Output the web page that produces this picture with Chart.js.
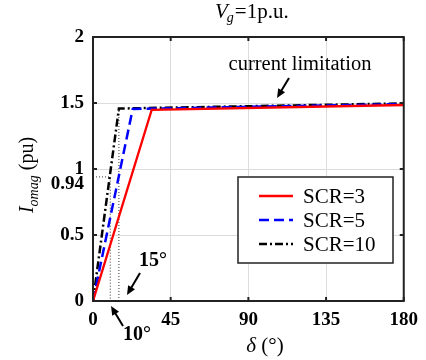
<!DOCTYPE html>
<html>
<head>
<meta charset="utf-8">
<script src="https://cdn.jsdelivr.net/npm/chart.js@4/dist/chart.umd.min.js"></script>
<style>
  html, body { margin: 0; padding: 0; background: #fff; }
  #wrap { width: 426px; height: 360px; position: relative; }
</style>
</head>
<body>
<div id="wrap"><canvas id="chart"></canvas></div>
<script>
const SERIF = '"Liberation Serif", "Times New Roman", serif';

// load angle (deg) vs. current magnitude (pu)
const scr3Delta = [0, 34, 180];
const scr3Imag = [0, 1.448, 1.485];
const scr5Delta = [0, 23, 180];
const scr5Imag = [0, 1.455, 1.492];
const scr10Delta = [0, 15, 180];
const scr10Imag = [0, 1.458, 1.497];

const seriesLabels = ['SCR=3', 'SCR=5', 'SCR=10'];
const xTicks = [0, 45, 90, 135, 180];
const yTicks = [0, 0.5, 1, 1.5, 2];

// dotted guides
const markLevel = 0.94;
const markAngles = [10, 15];

const pts = (xs, ys) => xs.map((x, i) => ({ x: x, y: ys[i] }));

const guideA = [{ x: 0, y: markLevel }, { x: markAngles[0], y: markLevel }, { x: markAngles[0], y: 0 }];
const guideB = [{ x: markAngles[1], y: 0 }, { x: markAngles[1], y: scr10Imag[1] }];

function arrow(ctx, x1, y1, x2, y2) {
  const a = Math.atan2(y2 - y1, x2 - x1);
  const L = 9, W = 4;
  ctx.beginPath();
  ctx.moveTo(x1, y1);
  ctx.lineTo(x2 - Math.cos(a) * L * 0.8, y2 - Math.sin(a) * L * 0.8);
  ctx.strokeStyle = '#000';
  ctx.lineWidth = 2;
  ctx.stroke();
  ctx.beginPath();
  ctx.moveTo(x2, y2);
  ctx.lineTo(x2 - Math.cos(a) * L - Math.sin(a) * W, y2 - Math.sin(a) * L + Math.cos(a) * W);
  ctx.lineTo(x2 - Math.cos(a) * L + Math.sin(a) * W, y2 - Math.sin(a) * L - Math.cos(a) * W);
  ctx.closePath();
  ctx.fillStyle = '#000';
  ctx.fill();
}

const decorations = {
  id: 'decorations',
  afterDatasetsDraw(chart) {
    const { ctx, chartArea: a, scales } = chart;
    const xs = scales.x, ys = scales.y;
    ctx.save();

    // frame
    ctx.strokeStyle = '#222';
    ctx.lineWidth = 2;
    ctx.strokeRect(a.left, a.top, a.right - a.left, a.bottom - a.top);

    // inward ticks
    ctx.lineWidth = 2;
    ctx.beginPath();
    xTicks.forEach(v => {
      const px = xs.getPixelForValue(v);
      ctx.moveTo(px, a.bottom); ctx.lineTo(px, a.bottom - 4);
      ctx.moveTo(px, a.top); ctx.lineTo(px, a.top + 4);
    });
    yTicks.forEach(v => {
      const py = ys.getPixelForValue(v);
      ctx.moveTo(a.left, py); ctx.lineTo(a.left + 4, py);
      ctx.moveTo(a.right, py); ctx.lineTo(a.right - 4, py);
    });
    ctx.stroke();

    // extra level label
    ctx.fillStyle = '#000';
    ctx.font = 'bold 19px ' + SERIF;
    ctx.textAlign = 'right';
    ctx.textBaseline = 'middle';
    ctx.fillText(String(markLevel), a.left - 9, ys.getPixelForValue(markLevel) + 7);

    // annotations
    ctx.font = 'bold 20px ' + SERIF;
    ctx.textAlign = 'center';
    ctx.fillText(markAngles[1] + '°', 153, 261);
    ctx.fillText(markAngles[0] + '°', 137, 335);
    arrow(ctx, 140, 273, 127, 295);
    arrow(ctx, 123, 326, 111, 306);

    ctx.font = '20.5px ' + SERIF;
    ctx.fillText('current limitation', 300, 65);
    arrow(ctx, 289, 78, 277, 98);

    // legend
    const lx = 238, ly = 177, lw = 155, lh = 86;
    ctx.fillStyle = '#fff';
    ctx.fillRect(lx, ly, lw, lh);
    ctx.strokeStyle = '#222';
    ctx.lineWidth = 1.5;
    ctx.strokeRect(lx, ly, lw, lh);
    ctx.font = '21px ' + SERIF;
    ctx.textAlign = 'left';
    ctx.textBaseline = 'middle';
    seriesLabels.forEach((lab, i) => {
      const ds = chart.data.datasets[i];
      const y = ly + 19 + i * 24;
      ctx.beginPath();
      ctx.setLineDash(ds.borderDash || []);
      ctx.strokeStyle = ds.borderColor;
      ctx.lineWidth = ds.borderWidth;
      ctx.moveTo(lx + 21, y);
      ctx.lineTo(lx + 55, y);
      ctx.stroke();
      ctx.setLineDash([]);
      ctx.fillStyle = '#000';
      ctx.fillText(lab, lx + 65, y + 1);
    });

    // title: V_g=1p.u.
    ctx.textBaseline = 'alphabetic';
    ctx.textAlign = 'left';
    let tx = 215;
    const ty = 18;
    ctx.font = 'italic 21px ' + SERIF;
    ctx.fillText('V', tx, ty);
    tx += ctx.measureText('V').width - 1;
    ctx.font = 'italic 14px ' + SERIF;
    ctx.fillText('g', tx, ty + 4);
    tx += ctx.measureText('g').width + 1;
    ctx.font = '21px ' + SERIF;
    ctx.fillText('=1p.u.', tx, ty);

    // x axis title: δ (°)
    ctx.font = 'italic 21px ' + SERIF;
    const dW = ctx.measureText('δ').width;
    ctx.font = '21px ' + SERIF;
    const rW = ctx.measureText(' (°)').width;
    let xx = 265 - (dW + rW) / 2;
    ctx.font = 'italic 21px ' + SERIF;
    ctx.fillText('δ', xx, 352);
    ctx.font = '21px ' + SERIF;
    ctx.fillText(' (°)', xx + dW, 352);

    // y axis title: I_omag (pu)
    ctx.translate(33, 175);
    ctx.rotate(-Math.PI / 2);
    ctx.font = 'italic 20px ' + SERIF;
    const iW = ctx.measureText('I').width;
    ctx.font = 'italic 14px ' + SERIF;
    const sW = ctx.measureText('omag').width;
    ctx.font = '20px ' + SERIF;
    const pW = ctx.measureText(' (pu)').width;
    let yx = -(iW + sW + pW) / 2;
    ctx.font = 'italic 20px ' + SERIF;
    ctx.fillText('I', yx, 0);
    yx += iW;
    ctx.font = 'italic 14px ' + SERIF;
    ctx.fillText('omag', yx, 5);
    yx += sW;
    ctx.font = '20px ' + SERIF;
    ctx.fillText(' (pu)', yx, 0);

    ctx.restore();
  }
};

const guideStyle = {
  borderColor: '#333',
  borderWidth: 1,
  borderDash: [1, 2],
  pointRadius: 0,
  fill: false
};

new Chart(document.getElementById('chart'), {
  type: 'line',
  data: {
    datasets: [
      {
        label: seriesLabels[0],
        data: pts(scr3Delta, scr3Imag),
        borderColor: '#ff0000',
        borderWidth: 2.3,
        pointRadius: 0
      },
      {
        label: seriesLabels[1],
        data: pts(scr5Delta, scr5Imag),
        borderColor: '#0000ff',
        borderWidth: 2.5,
        borderDash: [10, 5],
        pointRadius: 0
      },
      {
        label: seriesLabels[2],
        data: pts(scr10Delta, scr10Imag),
        borderColor: '#000000',
        borderWidth: 2.5,
        borderDash: [8, 3, 2, 3],
        pointRadius: 0
      },
      Object.assign({ label: 'guideA', data: guideA }, guideStyle),
      Object.assign({ label: 'guideB', data: guideB }, guideStyle)
    ]
  },
  options: {
    responsive: true,
    maintainAspectRatio: false,
    animation: false,
    layout: { padding: { top: 37, right: 22, left: 0, bottom: 0 } },
    plugins: {
      legend: { display: false },
      tooltip: { enabled: false }
    },
    scales: {
      x: {
        type: 'linear',
        min: 0,
        max: 180,
        afterFit: s => { s.height = 59; },
        afterBuildTicks: s => { s.ticks = xTicks.map(v => ({ value: v })); },
        grid: { color: '#dcdcdc', lineWidth: 1, drawTicks: false },
        border: { display: false },
        ticks: { color: '#000', padding: 8, maxRotation: 0, font: { family: SERIF, size: 19, weight: 'bold' } }
      },
      y: {
        min: 0,
        max: 2,
        afterFit: s => { s.width = 93; },
        afterBuildTicks: s => { s.ticks = yTicks.map(v => ({ value: v })); },
        grid: { color: '#dcdcdc', lineWidth: 1, drawTicks: false },
        border: { display: false },
        ticks: {
          color: '#000',
          padding: 9,
          callback: v => String(v),
          font: { family: SERIF, size: 19, weight: 'bold' }
        }
      }
    }
  },
  plugins: [decorations]
});
</script>
</body>
</html>
